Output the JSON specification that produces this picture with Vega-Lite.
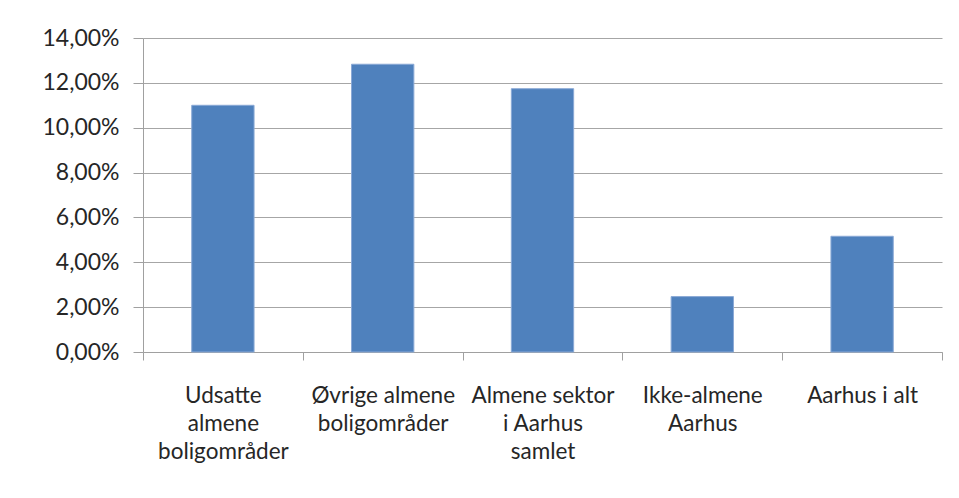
{
  "$schema": "https://vega.github.io/schema/vega-lite/v6.json",
  "autosize": {"type": "none"},
  "padding": {"left": 143, "top": 38, "right": 17, "bottom": 146},
  "width": 799,
  "height": 314,
  "background": "white",
  "data": {
    "values": [
      {"kategori": "Udsatte almene boligområder", "andel": 0.110},
      {"kategori": "Øvrige almene boligområder", "andel": 0.1283},
      {"kategori": "Almene sektor i Aarhus samlet", "andel": 0.1174},
      {"kategori": "Ikke-almene Aarhus", "andel": 0.0247},
      {"kategori": "Aarhus i alt", "andel": 0.0516}
    ]
  },
  "mark": {"type": "bar", "color": "#4F81BD", "stroke": "#8AA9D6", "strokeWidth": 1, "width": {"band": 0.39}},
  "encoding": {
    "x": {
      "field": "kategori",
      "type": "nominal",
      "sort": null,
      "scale": {"paddingInner": 0, "paddingOuter": 0},
      "axis": {
        "title": null,
        "labelAngle": 0,
        "labelFont": "Lato",
        "labelFontSize": 22.5,
        "labelColor": "#262626",
        "labelLineHeight": 28,
        "labelPadding": 24,
        "labelBaseline": "top",
        "tickBand": "extent",
        "tickSize": 8,
        "tickColor": "#A0A0A0",
        "domainColor": "#A0A0A0",
        "labelExpr": "datum.value == 'Udsatte almene boligområder' ? ['Udsatte', 'almene', 'boligområder'] : datum.value == 'Øvrige almene boligområder' ? ['Øvrige almene', 'boligområder'] : datum.value == 'Almene sektor i Aarhus samlet' ? ['Almene sektor', 'i Aarhus', 'samlet'] : datum.value == 'Ikke-almene Aarhus' ? ['Ikke-almene', 'Aarhus'] : datum.value"
      }
    },
    "y": {
      "field": "andel",
      "type": "quantitative",
      "scale": {"domain": [0, 0.14], "nice": false},
      "axis": {
        "title": null,
        "values": [0, 0.02, 0.04, 0.06, 0.08, 0.1, 0.12, 0.14],
        "labelExpr": "replace(format(datum.value * 100, '.2f'), '.', ',') + '%'",
        "labelFont": "Lato",
        "labelFontSize": 23,
        "labelColor": "#262626",
        "labelPadding": 14,
        "tickSize": 10,
        "tickColor": "#A0A0A0",
        "domainColor": "#A0A0A0",
        "grid": true,
        "gridColor": "#A6A6A6",
        "gridOpacity": 1
      }
    }
  },
  "config": {
    "view": {"stroke": null},
    "axis": {"domainWidth": 1, "tickWidth": 1, "gridWidth": 1}
  }
}
